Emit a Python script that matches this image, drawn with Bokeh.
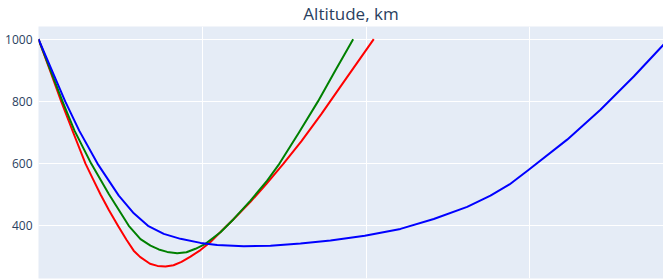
from bokeh.plotting import figure
from bokeh.models import Range1d, SingleIntervalTicker, FixedTicker
from bokeh.embed import file_html
from bokeh.resources import INLINE

# ---- data ----
red_x = [0.0000, 0.0702, 0.1386, 0.2088, 0.2869, 0.3327, 0.3797, 0.4304, 0.4853,
         0.5372, 0.5812, 0.6197, 0.6807, 0.7265, 0.7753, 0.8242, 0.8730, 0.9280,
         0.9890, 1.0501, 1.1111, 1.1923, 1.2943, 1.3919, 1.4957, 1.6056, 1.7277,
         1.8468, 2.0470]
red_alt = [1000, 900, 800, 704, 600, 550, 500, 450, 400,
           355, 320, 300, 278, 271, 269, 273, 284, 301,
           322, 348, 380, 422, 477, 535, 600, 672, 760,
           850, 1000]

green_x = [0.0000, 0.1465, 0.2198, 0.3217, 0.4292, 0.5513, 0.6227, 0.6838, 0.7344,
           0.7857, 0.8468, 0.9035, 0.9585, 1.0195, 1.1111, 1.1923, 1.2943, 1.3962,
           1.4713, 1.5904, 1.7064, 1.8132, 1.9212]
green_alt = [1000, 800, 706, 600, 502, 400, 357, 336, 324,
             316, 312, 315, 326, 342, 379, 422, 481, 545,
             600, 700, 800, 900, 1000]

blue_x = [0.0000, 0.1630, 0.2485, 0.3602, 0.4902, 0.5818, 0.6685, 0.7650, 0.8669,
          0.9890, 1.0910, 1.2534, 1.4164, 1.5995, 1.7827, 1.9921, 2.2100, 2.4133,
          2.6172, 2.7595, 2.8755, 2.9933, 3.2277, 3.4310, 3.6343, 3.8156, 3.8474]
blue_alt = [1000, 800, 706, 600, 497, 440, 400, 374, 358,
            345, 338, 334, 336, 343, 353, 368, 390, 422,
            461, 497, 533, 580, 677, 773, 880, 982, 1000]

x_grid_ticks = [1, 2, 3]
y_tick_step = 200
title_text = "Altitude, km"

FONT = "Open Sans"
TXT = "#2a3f5f"

p = figure(width=663, height=280, output_backend="svg", toolbar_location=None,
           x_range=Range1d(0, 3.816), y_range=Range1d(230.5, 1040.8),
           min_border_left=38, min_border_right=0, min_border_top=26,
           min_border_bottom=2)

p.background_fill_color = "#E5ECF6"
p.border_fill_color = "white"
p.outline_line_color = None

p.line(red_x, red_alt, line_color="#FF0000", line_width=2, line_join="round")
p.line(green_x, green_alt, line_color="#008000", line_width=2, line_join="round")
p.line(blue_x, blue_alt, line_color="#0000FF", line_width=2, line_join="round")

# title
p.title.text = title_text
p.title.align = "center"
p.title.vertical_align = "top"
p.title.text_font = FONT
p.title.text_font_size = "17px"
p.title.text_font_style = "normal"
p.title.text_color = TXT
p.title.standoff = 0
p.title.offset = 2

# axes
p.xaxis.visible = False
p.xgrid.ticker = FixedTicker(ticks=x_grid_ticks)
p.xgrid.grid_line_color = "white"
p.xgrid.grid_line_width = 1

yax = p.yaxis[0]
yax.ticker = SingleIntervalTicker(interval=y_tick_step)
yax.axis_line_color = None
yax.major_tick_line_color = None
yax.minor_tick_line_color = None
yax.major_tick_out = 0
yax.major_tick_in = 0
yax.major_label_standoff = 2
yax.major_label_text_font = FONT
yax.major_label_text_font_size = "12px"
yax.major_label_text_color = TXT
p.ygrid.grid_line_color = "white"
p.ygrid.grid_line_width = 1

open("out.html", "w").write(file_html(p, INLINE))
